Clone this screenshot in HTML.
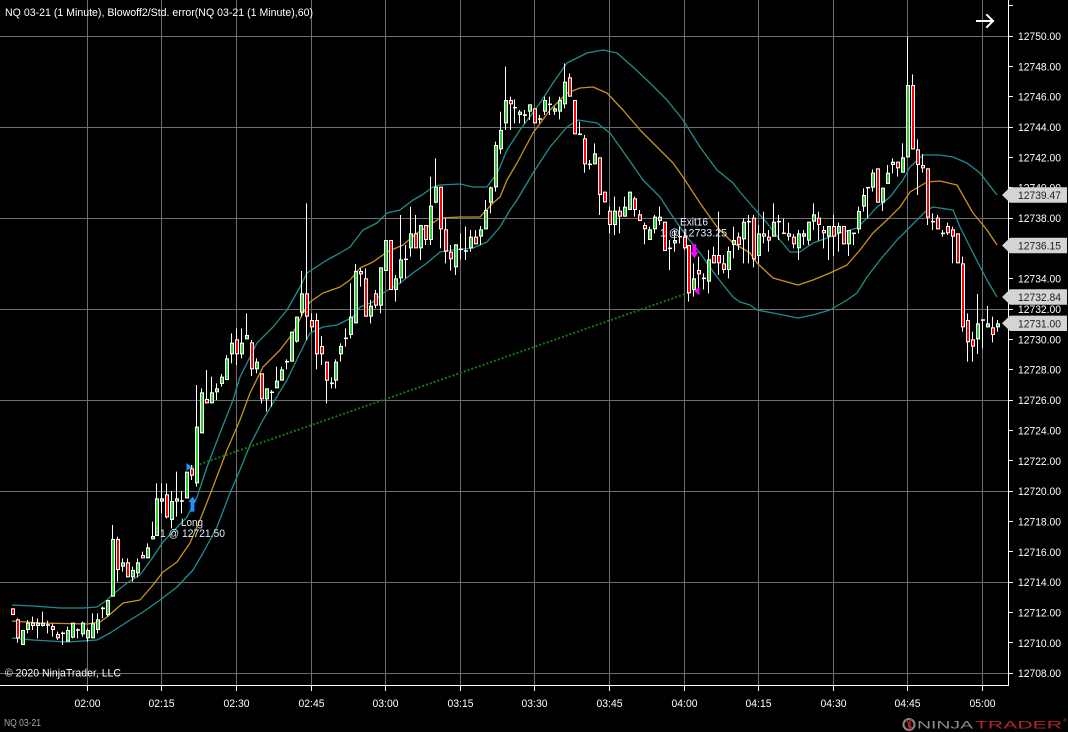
<!DOCTYPE html>
<html><head><meta charset="utf-8"><style>
html,body{margin:0;padding:0;background:#000;width:1068px;height:732px;overflow:hidden}
svg{display:block}
text{font-family:"Liberation Sans",Arial,sans-serif}
</style></head><body>
<svg id="s" width="1068" height="732" viewBox="0 0 1068 732" xmlns="http://www.w3.org/2000/svg">
<rect x="0" y="0" width="1068" height="732" fill="#000"/>
<g stroke="#6e6e6e" stroke-width="1">
<line x1="87.5" y1="0" x2="87.5" y2="685"/><line x1="161.5" y1="0" x2="161.5" y2="685"/><line x1="236.5" y1="0" x2="236.5" y2="685"/><line x1="311.5" y1="0" x2="311.5" y2="685"/><line x1="385.5" y1="0" x2="385.5" y2="685"/><line x1="460.5" y1="0" x2="460.5" y2="685"/><line x1="534.5" y1="0" x2="534.5" y2="685"/><line x1="609.5" y1="0" x2="609.5" y2="685"/><line x1="684.5" y1="0" x2="684.5" y2="685"/><line x1="758.5" y1="0" x2="758.5" y2="685"/><line x1="833.5" y1="0" x2="833.5" y2="685"/><line x1="907.5" y1="0" x2="907.5" y2="685"/><line x1="982.5" y1="0" x2="982.5" y2="685"/>
<line x1="0" y1="36.5" x2="1008" y2="36.5"/><line x1="0" y1="127.5" x2="1008" y2="127.5"/><line x1="0" y1="218.5" x2="1008" y2="218.5"/><line x1="0" y1="309.5" x2="1008" y2="309.5"/><line x1="0" y1="400.5" x2="1008" y2="400.5"/><line x1="0" y1="491.5" x2="1008" y2="491.5"/><line x1="0" y1="582.5" x2="1008" y2="582.5"/><line x1="0" y1="673.5" x2="1008" y2="673.5"/>
</g>
<g fill="none" stroke-width="1.3" stroke-linejoin="round">
<polyline stroke="#1f8e8e" points="12,605 33,606 60,608 83,608 97,607 107,600 112,595 127,583 140,575 153,557 163,542 187,517 197,497 207,467 220,433 233,400 240,377 257,343 273,327 287,310 300,287 307,273 327,260 340,253 350,247 363,230 377,223 387,213 400,210 413,200 422,195 433,187 440,185 460,184 473,187 487,187 497,173 500,167 507,150 520,130 540,103 553,83 567,63 587,53 603,50 617,53 633,67 650,83 667,100 683,120 700,147 717,170 733,183 740,192 753,207 767,223 780,240 790,252 800,252 813,243 827,238 840,233 857,228 867,218 877,207 890,197 903,180 910,167 923,155 940,155 953,157 967,163 980,173 997,195"/>
<polyline stroke="#c8921e" points="12,621 40,623 87,624 100,622 107,617 123,603 140,600 153,585 163,572 177,562 190,543 200,520 213,487 227,450 240,420 250,393 263,367 280,350 293,333 303,313 310,302 323,293 340,287 350,280 360,268 373,262 387,252 403,245 417,233 427,227 440,218 460,217 480,217 493,203 500,197 507,180 517,163 533,133 550,110 567,93 580,88 593,87 607,93 623,110 640,130 657,147 673,163 683,177 700,203 717,227 733,243 740,247 750,253 757,263 773,278 798,285 813,280 830,273 847,265 860,250 873,233 887,220 900,207 910,192 927,182 940,181 957,185 973,213 987,230 997,245"/>
<polyline stroke="#1f8e8e" points="12,638 33,640 67,642 97,640 110,633 127,622 143,612 160,600 177,587 193,570 203,553 217,527 230,493 240,470 250,445 263,420 273,403 287,380 300,353 310,333 323,327 337,325 353,317 360,307 373,302 383,293 400,283 413,273 427,263 440,252 453,250 473,248 487,242 500,227 510,210 517,200 533,173 550,147 567,127 578,120 597,123 610,133 627,157 643,180 660,197 673,217 687,237 700,253 717,277 733,297 740,302 750,305 757,310 773,313 798,318 813,315 830,310 847,300 857,293 867,277 880,260 897,240 910,227 927,210 933,207 953,210 960,227 973,253 987,280 997,297"/>
</g>
<line x1="192" y1="467" x2="688" y2="293" stroke="#127812" stroke-width="2" stroke-dasharray="2,2"/>
<g id="candles"></g>
<!-- markers -->
<polygon points="186.5,463 186.5,471 192,467" fill="#1e90ff"/>
<polygon points="188.3,502 196.7,502 192.5,496.7" fill="#1e90ff"/>
<rect x="190.4" y="502" width="4" height="9.7" fill="#1e90ff"/>
<rect x="692.3" y="244.3" width="4" height="7.5" fill="#ff00ff"/>
<polygon points="690,251.7 698.5,251.7 694.3,258.5" fill="#ff00ff"/>
<polygon points="694,291 699.3,286.7 699.3,295.2" fill="#ff00ff"/>
<g font-size="11" fill="#e6edff">
<text x="181" y="526" textLength="22" lengthAdjust="spacingAndGlyphs">Long</text>
<text x="160" y="537" textLength="65" lengthAdjust="spacingAndGlyphs">1 @ 12721.50</text>
<text x="680" y="225.5" textLength="28" lengthAdjust="spacingAndGlyphs">Exit16</text>
<text x="660" y="236.5" textLength="67" lengthAdjust="spacingAndGlyphs">1 @ 12733.25</text>
</g>
<!-- title & footer text -->
<text x="5" y="16" font-size="11" fill="#fff" textLength="308" lengthAdjust="spacingAndGlyphs">NQ 03-21 (1 Minute), Blowoff2/Std. error(NQ 03-21 (1 Minute),60)</text>
<text x="5" y="676.5" font-size="11" fill="#fff" textLength="116" lengthAdjust="spacingAndGlyphs">© 2020 NinjaTrader, LLC</text>
<text x="4" y="726" font-size="10" fill="#a8a8a8" textLength="37" lengthAdjust="spacingAndGlyphs">NQ 03-21</text>
<!-- arrow top right -->
<g stroke="#fff" stroke-width="2" fill="none" stroke-linecap="square">
<line x1="977" y1="21" x2="993" y2="21"/><polyline points="987,15 993,21 987,27"/>
</g>
<!-- axes -->
<line x1="1008.5" y1="0" x2="1008.5" y2="686" stroke="#fff"/>
<line x1="0" y1="685.5" x2="1009" y2="685.5" stroke="#fff"/>
<g stroke="#fff">
<line x1="87.5" y1="685" x2="87.5" y2="691"/><line x1="161.5" y1="685" x2="161.5" y2="691"/><line x1="236.5" y1="685" x2="236.5" y2="691"/><line x1="311.5" y1="685" x2="311.5" y2="691"/><line x1="385.5" y1="685" x2="385.5" y2="691"/><line x1="460.5" y1="685" x2="460.5" y2="691"/><line x1="534.5" y1="685" x2="534.5" y2="691"/><line x1="609.5" y1="685" x2="609.5" y2="691"/><line x1="684.5" y1="685" x2="684.5" y2="691"/><line x1="758.5" y1="685" x2="758.5" y2="691"/><line x1="833.5" y1="685" x2="833.5" y2="691"/><line x1="907.5" y1="685" x2="907.5" y2="691"/><line x1="982.5" y1="685" x2="982.5" y2="691"/>
<line x1="1008" y1="5.5" x2="1013" y2="5.5"/><line x1="1008" y1="36.5" x2="1013" y2="36.5"/><line x1="1008" y1="66.5" x2="1013" y2="66.5"/><line x1="1008" y1="96.5" x2="1013" y2="96.5"/><line x1="1008" y1="127.5" x2="1013" y2="127.5"/><line x1="1008" y1="157.5" x2="1013" y2="157.5"/><line x1="1008" y1="187.5" x2="1013" y2="187.5"/><line x1="1008" y1="218.5" x2="1013" y2="218.5"/><line x1="1008" y1="248.5" x2="1013" y2="248.5"/><line x1="1008" y1="278.5" x2="1013" y2="278.5"/><line x1="1008" y1="309.5" x2="1013" y2="309.5"/><line x1="1008" y1="339.5" x2="1013" y2="339.5"/><line x1="1008" y1="369.5" x2="1013" y2="369.5"/><line x1="1008" y1="400.5" x2="1013" y2="400.5"/><line x1="1008" y1="430.5" x2="1013" y2="430.5"/><line x1="1008" y1="460.5" x2="1013" y2="460.5"/><line x1="1008" y1="491.5" x2="1013" y2="491.5"/><line x1="1008" y1="521.5" x2="1013" y2="521.5"/><line x1="1008" y1="551.5" x2="1013" y2="551.5"/><line x1="1008" y1="582.5" x2="1013" y2="582.5"/><line x1="1008" y1="612.5" x2="1013" y2="612.5"/><line x1="1008" y1="642.5" x2="1013" y2="642.5"/><line x1="1008" y1="673.5" x2="1013" y2="673.5"/>
</g>
<g font-size="11" fill="#fff" text-anchor="middle">
<text x="87.5" y="707" textLength="26" lengthAdjust="spacingAndGlyphs">02:00</text>
<text x="161.5" y="707" textLength="26" lengthAdjust="spacingAndGlyphs">02:15</text>
<text x="236.5" y="707" textLength="26" lengthAdjust="spacingAndGlyphs">02:30</text>
<text x="311.5" y="707" textLength="26" lengthAdjust="spacingAndGlyphs">02:45</text>
<text x="385.5" y="707" textLength="26" lengthAdjust="spacingAndGlyphs">03:00</text>
<text x="460.5" y="707" textLength="26" lengthAdjust="spacingAndGlyphs">03:15</text>
<text x="534.5" y="707" textLength="26" lengthAdjust="spacingAndGlyphs">03:30</text>
<text x="609.5" y="707" textLength="26" lengthAdjust="spacingAndGlyphs">03:45</text>
<text x="684.5" y="707" textLength="26" lengthAdjust="spacingAndGlyphs">04:00</text>
<text x="758.5" y="707" textLength="26" lengthAdjust="spacingAndGlyphs">04:15</text>
<text x="833.5" y="707" textLength="26" lengthAdjust="spacingAndGlyphs">04:30</text>
<text x="907.5" y="707" textLength="26" lengthAdjust="spacingAndGlyphs">04:45</text>
<text x="982.5" y="707" textLength="26" lengthAdjust="spacingAndGlyphs">05:00</text>
</g>
<g font-size="11" fill="#fff">
<text x="1018" y="40" textLength="43" lengthAdjust="spacingAndGlyphs">12750.00</text>
<text x="1018" y="70.3" textLength="43" lengthAdjust="spacingAndGlyphs">12748.00</text>
<text x="1018" y="100.7" textLength="43" lengthAdjust="spacingAndGlyphs">12746.00</text>
<text x="1018" y="131" textLength="43" lengthAdjust="spacingAndGlyphs">12744.00</text>
<text x="1018" y="161.4" textLength="43" lengthAdjust="spacingAndGlyphs">12742.00</text>
<text x="1018" y="191.7" textLength="43" lengthAdjust="spacingAndGlyphs">12740.00</text>
<text x="1018" y="222" textLength="43" lengthAdjust="spacingAndGlyphs">12738.00</text>
<text x="1018" y="252.4" textLength="43" lengthAdjust="spacingAndGlyphs">12736.00</text>
<text x="1018" y="282.7" textLength="43" lengthAdjust="spacingAndGlyphs">12734.00</text>
<text x="1018" y="313" textLength="43" lengthAdjust="spacingAndGlyphs">12732.00</text>
<text x="1018" y="343.4" textLength="43" lengthAdjust="spacingAndGlyphs">12730.00</text>
<text x="1018" y="373.7" textLength="43" lengthAdjust="spacingAndGlyphs">12728.00</text>
<text x="1018" y="404" textLength="43" lengthAdjust="spacingAndGlyphs">12726.00</text>
<text x="1018" y="434.4" textLength="43" lengthAdjust="spacingAndGlyphs">12724.00</text>
<text x="1018" y="464.8" textLength="43" lengthAdjust="spacingAndGlyphs">12722.00</text>
<text x="1018" y="495.1" textLength="43" lengthAdjust="spacingAndGlyphs">12720.00</text>
<text x="1018" y="525.4" textLength="43" lengthAdjust="spacingAndGlyphs">12718.00</text>
<text x="1018" y="555.8" textLength="43" lengthAdjust="spacingAndGlyphs">12716.00</text>
<text x="1018" y="586.1" textLength="43" lengthAdjust="spacingAndGlyphs">12714.00</text>
<text x="1018" y="616.5" textLength="43" lengthAdjust="spacingAndGlyphs">12712.00</text>
<text x="1018" y="646.8" textLength="43" lengthAdjust="spacingAndGlyphs">12710.00</text>
<text x="1018" y="677.1" textLength="43" lengthAdjust="spacingAndGlyphs">12708.00</text>
</g>
<!-- price tags -->
<g fill="#d4d4d4">
<polygon points="1002,195 1010,187.3 1067,187.3 1067,202.7 1010,202.7"/>
<polygon points="1002,245.5 1010,237.8 1067,237.8 1067,253.2 1010,253.2"/>
<polygon points="1002,297 1010,289.3 1067,289.3 1067,304.7 1010,304.7"/>
<polygon points="1002,323.3 1010,315.6 1067,315.6 1067,331 1010,331"/>
</g>
<g font-size="11" fill="#222">
<text x="1018" y="199" textLength="43" lengthAdjust="spacingAndGlyphs">12739.47</text>
<text x="1018" y="249.5" textLength="43" lengthAdjust="spacingAndGlyphs">12736.15</text>
<text x="1018" y="301" textLength="43" lengthAdjust="spacingAndGlyphs">12732.84</text>
<text x="1018" y="327.3" textLength="43" lengthAdjust="spacingAndGlyphs">12731.00</text>
</g>
<!-- logo -->
<circle cx="909" cy="724.5" r="5.5" fill="none" stroke="#8a8a8a" stroke-width="2"/>
<path d="M906,720 Q910,724 909,730 M911,719 Q908,724 912,729" stroke="#b0262c" stroke-width="1.5" fill="none"/>
<text x="917" y="728.5" font-size="11" fill="#8c8c8c" textLength="56" lengthAdjust="spacingAndGlyphs">NINJA</text>
<text x="975" y="728.5" font-size="11" fill="#b0262c" textLength="87" lengthAdjust="spacingAndGlyphs">TRADER</text>
<text x="1063" y="722" font-size="5" fill="#b0262c">®</text>
</svg>
<script>
var segs=[
{ox:0,oy:300,start:0,d:"r 925 945 925 945;r 958 1015 955 1028;g 990 1035 990 1035;g 968 990 960 1000;r 968 978 950 990;g 968 978 955 1015;g 968 978 935 980;d 975 975 962 1000;r 978 990 970 1010;r 1002 1015 995 1020;d 1000 1000 995 1035;g 990 1025 980 1025;g 968 1013 968 1015;d 990 990 985 1015;g 968 1003 965 1010;g 990 1015 985 1025;g 970 1015 940 1015;g 958 990 940 1000;d 925 925 920 955;g 900 945 900 950;g 717 890 675 890;r 717 810 710 845;g 787 800 775 815;r 787 832 775 832;g 810 832 800 845;g 787 820 775 832;r 765 775 755 775;g 742 775 730 775;g 708 718 665 718;g 595 708 550 708;g 595 605 550 640;r 583 652 550 655;g 603 660 573 685;g 595 605 515 650;d 603 603 573 640;g 515 595 515 595;r 505 527 495 540;g 380 550 255 560;g 277 400 265 400;r 297 310 210 310;g 277 310 230 310;g 265 277 250 300;g 230 252 222 260;g 175 240 165 240;g 128 163 100 190;r 118 163 85 195;g 128 163 85 175"},
{ox:240,oy:60,start:47,d:"g 825 838 760 838;r 847 928 840 948;g 905 928 895 940;r 940 1018 940 1030;g 985 1018 985 1055;d 997 997 990 1040;g 962 985 920 985;g 928 962 920 962;d 905 905 898 928;g 815 905 815 905;g 770 845 770 848;g 700 758 633 770;r 700 770 430 840;r 780 802 760 815;r 780 883 760 928;r 858 883 828 915;r 905 962 905 1030;d 970 970 952 985;g 905 962 898 985;g 858 883 850 905;d 835 835 805 860;g 770 825 670 835;g 633 790 612 790;r 633 643 625 680;r 655 770 625 770;g 737 770 720 790;r 700 737 690 745;g 622 737 622 760;g 540 633 540 633;r 540 690 540 690;g 655 690 645 725;g 598 655 465 670;d 598 598 555 655;g 520 565 440 590;r 520 565 465 565;g 495 565 495 600;r 495 540 495 555;g 437 540 350 555;g 380 428 295 430;r 380 508 380 565;r 508 575 475 610;r 575 598 555 632;g 553 622 553 645;d 568 568 520 598;d 573 573 500 600;g 530 565 510 575;r 530 553 510 553;g 508 530 498 555;g 450 508 420 508;g 382 428 380 460;g 255 382 245 395;g 210 268 155 282"},
{ox:500,oy:50,start:99,d:"g 150 220 50 240;r 150 163 140 240;d 173 173 148 220;g 185 195 180 220;d 195 195 180 220;g 163 185 163 210;r 175 220 175 220;d 207 207 195 220;g 150 185 140 195;d 163 163 140 195;g 175 185 170 195;g 150 185 140 208;g 95 163 40 175;r 82 140 70 140;r 150 253 150 253;d 253 253 215 253;r 265 343 255 368;d 343 343 330 358;g 310 343 280 343;r 322 435 322 495;r 425 457 425 457;r 482 525 470 550;g 482 525 440 555;r 482 500 470 550;g 470 500 440 500;g 425 480 425 480;r 445 480 440 500;r 493 513 480 513;r 525 538 518 583;g 538 570 530 570;g 500 538 495 550;g 500 513 470 525;r 515 603 515 603;d 595 595 570 660;g 570 580 540 605;d 560 560 530 580;r 560 595 545 600;r 585 730 585 755;g 685 720 640 740;r 660 673 620 715;d 685 685 670 718;g 628 695 600 730;r 615 640 590 640;r 615 640 485 675;r 640 660 615 670;g 603 660 590 685;g 570 585 530 625;r 560 585 548 600"},
{ox:740,oy:30,start:147,d:"g 575 628 565 700;d 575 575 555 700;r 563 688 555 712;g 610 678 585 700;r 610 620 545 640;r 620 632 600 665;g 575 620 520 620;d 575 575 555 630;d 610 610 565 610;r 610 620 578 632;r 620 643 612 655;g 610 655 600 690;g 610 620 600 645;g 575 632 575 645;g 553 575 520 600;r 563 585 545 632;r 600 610 588 655;g 588 620 588 690;r 588 620 555 678;g 588 610 578 665;r 588 643 588 643;g 600 643 600 678;d 610 610 610 645;g 543 598 530 610;g 495 530 475 545;d 473 473 473 565;g 428 473 418 485;r 415 518 415 518;g 473 518 473 543;g 428 462 405 462;g 395 405 385 430;r 395 415 395 440;g 382 428 340 428;g 165 382 20 382;r 165 358 133 358;r 358 405 328 495;r 405 415 372 428;r 415 563 415 585;d 575 575 550 600;r 563 598 555 598;d 610 610 600 620;r 588 610 578 615;r 598 620 590 700;r 610 700 610 700;r 700 892 680 905;r 870 937 850 995;r 928 950 905 995;g 880 928 792 972;d 870 870 870 955;g 880 892 828 892;r 892 915 860 937;g 880 892 870 905"}
];
var NS="http://www.w3.org/2000/svg";
var grp=document.getElementById("candles");
function mk(tag,attrs){var e=document.createElementNS(NS,tag);for(var k in attrs)e.setAttribute(k,attrs[k]);grp.appendChild(e);}
segs.forEach(function(s){
  s.d.split(";").forEach(function(line,k){
    var p=line.trim().split(/\s+/);if(p.length<5)return;
    var c=p[0],i=s.start+k,r=Math.round(12.3+4.972*i);
    var Y=function(v){return s.oy+(+v)/3;};
    var t=Y(p[1]),b=Y(p[2]),wt=Y(p[3]),wb=Y(p[4]);
    if(wt>t)wt=t; if(wb<b)wb=b;
    if(wb-wt>0.5) mk("line",{x1:r+0.5,x2:r+0.5,y1:wt,y2:wb,stroke:"#fff","stroke-width":1});
    if(b-t<2.5||c==="d"){
      mk("rect",{x:r-1,y:(t+b)/2-0.75,width:4,height:1.5,fill:"#fff"});
    }else{
      mk("rect",{x:r-1,y:t,width:4,height:b-t,fill:"#fff"});
      mk("rect",{x:r,y:t+1,width:2,height:b-t-2,fill:(c==="g"?"#33cc33":"#ff0000")});
    }
  });
});
</script>
</body></html>
